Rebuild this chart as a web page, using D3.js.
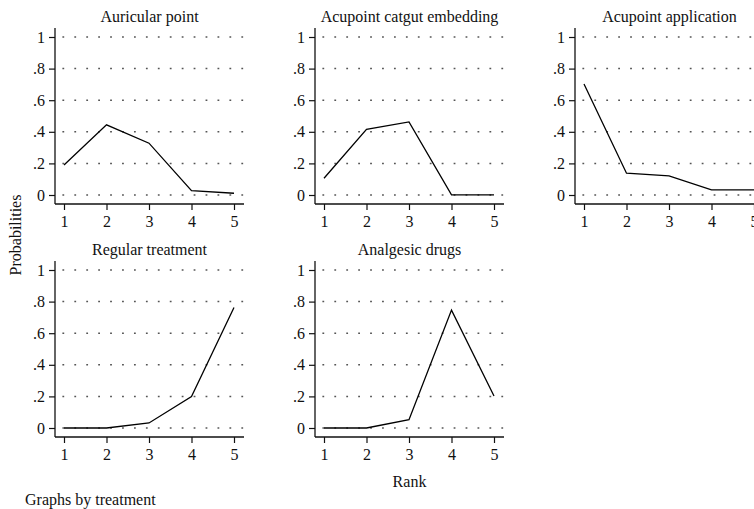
<!DOCTYPE html>
<html>
<head>
<meta charset="utf-8">
<script src="https://cdn.jsdelivr.net/npm/d3@7"></script>
<style>
  html, body { margin: 0; padding: 0; background: #fff; }
  svg { display: block; }
  text { font-family: "Liberation Serif", "Times New Roman", serif; fill: #111; }
</style>
</head>
<body>
<svg id="chart" width="754" height="509"></svg>
<script>
// Rank probabilities for each treatment
const ranks = [1, 2, 3, 4, 5];
const treatments = ["Auricular point", "Acupoint catgut embedding", "Acupoint application",
                    "Regular treatment", "Analgesic drugs"];
const auricularPoint    = [0.190, 0.444, 0.328, 0.027, 0.011];
const catgutEmbedding   = [0.106, 0.416, 0.463, 0.001, 0.001];
const acupointApp       = [0.703, 0.138, 0.121, 0.032, 0.032];
const regularTreatment  = [0.000, 0.000, 0.032, 0.199, 0.763];
const analgesicDrugs    = [0.000, 0.000, 0.053, 0.746, 0.203];
const yTicks = [0, 0.2, 0.4, 0.6, 0.8, 1];
const yTickLabels = ["0", ".2", ".4", ".6", ".8", "1"];

const seriesList = [auricularPoint, catgutEmbedding, acupointApp, regularTreatment, analgesicDrugs];

const svg = d3.select("#chart");
const W = 189, H = 176;          // plot region of one panel
const colStep = 260, rowStep = 233;
const left0 = 55, top0 = 28;
const FS = 16;

const x = d3.scaleLinear().domain([1, 5]).range([9, 179]);
const y = d3.scaleLinear().domain([0, 1]).range([167, 9]);

const line = d3.line().x((d, i) => x(ranks[i])).y(d => y(d));

treatments.forEach((name, k) => {
  const col = k % 3, row = Math.floor(k / 3);
  const g = svg.append("g")
    .attr("transform", `translate(${left0 + col * colStep},${top0 + row * rowStep})`);

  // dotted grid lines
  g.selectAll("line.grid").data(yTicks).join("line")
    .attr("class", "grid")
    .attr("x1", 7.4).attr("x2", W)
    .attr("y1", d => y(d)).attr("y2", d => y(d))
    .attr("stroke", "#555").attr("stroke-width", 1.5)
    .attr("stroke-dasharray", "1.8 10.13");

  // y axis
  const ya = g.append("g").call(
    d3.axisLeft(y).tickValues(yTicks).tickSize(6).tickPadding(4)
      .tickFormat((d, i) => yTickLabels[i]));
  ya.select(".domain").remove();
  ya.selectAll(".tick line").attr("stroke", "#111").attr("stroke-width", 1.2);
  ya.selectAll(".tick text").attr("font-size", FS).attr("font-family", null).attr("fill", null);

  // x axis
  const xa = g.append("g").attr("transform", `translate(0,${H})`).call(
    d3.axisBottom(x).tickValues(ranks).tickSize(6).tickPadding(5.5).tickFormat(d3.format("d")));
  xa.select(".domain").remove();
  xa.selectAll(".tick line").attr("stroke", "#111").attr("stroke-width", 1.2);
  xa.selectAll(".tick text").attr("font-size", FS).attr("font-family", null).attr("fill", null);

  // axis lines
  g.append("line").attr("x1", 0).attr("x2", 0).attr("y1", 0).attr("y2", H)
    .attr("stroke", "#111").attr("stroke-width", 1.3);
  g.append("line").attr("x1", 0).attr("x2", W).attr("y1", H).attr("y2", H)
    .attr("stroke", "#111").attr("stroke-width", 1.3);

  // series line
  g.append("path").datum(seriesList[k])
    .attr("d", line).attr("fill", "none")
    .attr("stroke", "#000").attr("stroke-width", 1.3);

  // panel title
  g.append("text").attr("x", W / 2).attr("y", -6)
    .attr("text-anchor", "middle").attr("font-size", FS).text(name);
});

// shared labels
svg.append("text").attr("transform", "translate(21,235) rotate(-90)")
  .attr("text-anchor", "middle").attr("font-size", FS).text("Probabilities");
svg.append("text").attr("x", left0 + colStep + W / 2).attr("y", 487)
  .attr("text-anchor", "middle").attr("font-size", FS).text("Rank");
svg.append("text").attr("x", 25).attr("y", 505)
  .attr("font-size", FS).text("Graphs by treatment");
</script>
</body>
</html>
